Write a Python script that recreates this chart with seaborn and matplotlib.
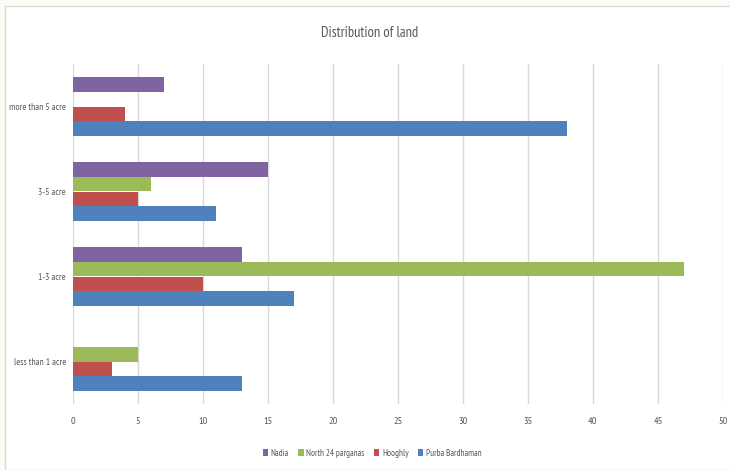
import matplotlib
matplotlib.use("Agg")
import matplotlib.pyplot as plt
import seaborn as sns
import pandas as pd
from matplotlib.patches import Rectangle
from matplotlib import font_manager

categories = ["more than 5 acre", "3-5 acre", "1-3 acre", "less than 1 acre"]
series = ["Nadia", "North 24 parganas", "Hooghly", "Purba Bardhaman"]
nadia = [7, 15, 13, 0]
north24 = [0, 6, 47, 5]
hooghly = [4, 5, 10, 3]
purba = [38, 11, 17, 13]
colors = ["#8064A2", "#9BBB59", "#C0504D", "#4F81BD"]
xticks = [0, 5, 10, 15, 20, 25, 30, 35, 40, 45, 50]

rows = []
for name, vals in zip(series, [nadia, north24, hooghly, purba]):
    for c, v in zip(categories, vals):
        rows.append({"category": c, "series": name, "value": v})
df = pd.DataFrame(rows)

sns.set_theme(style="white")
names = {f.name for f in font_manager.fontManager.ttflist}
candidates = ["Liberation Sans Narrow", "PT Sans Narrow", "Archivo Narrow", "Roboto Condensed",
              "Open Sans Condensed", "Fira Sans Condensed", "IBM Plex Sans Condensed",
              "Encode Sans Condensed", "Asap Condensed", "Ubuntu Condensed", "Pragati Narrow"]
fam = next((c for c in candidates if c in names), None)
if fam is None:
    fam = "Liberation Sans"
    scale = 0.75
else:
    scale = 0.91
plt.rcParams["font.family"] = [fam, "DejaVu Sans"]

fig = plt.figure(figsize=(7.3, 4.7), dpi=100)
fig.patch.set_facecolor("#fbfcf3")
fig.patches.append(Rectangle((5 / 730, 0.0), 1.0, 1 - 6 / 470, transform=fig.transFigure,
                             facecolor="white", edgecolor="#d9d9d9", linewidth=1.0, zorder=-5))

ax = fig.add_axes([73 / 730, 1 - 404 / 470, 650 / 730, 340 / 470])
ax.set_facecolor("none")
sns.barplot(data=df, y="category", x="value", hue="series", order=categories,
            hue_order=series, palette=colors, orient="h", width=0.69, ax=ax,
            saturation=1, legend=True, errorbar=None, linewidth=0)

ax.set_xlim(0, 50)
ax.set_xticks(xticks)
ax.set_xticklabels([str(t) for t in xticks])
ax.grid(axis="x", color="#d9d9d9", linewidth=1.0)
ax.set_axisbelow(True)
for s in ax.spines.values():
    s.set_visible(False)
ax.tick_params(axis="both", length=0, colors="#595959")
ax.tick_params(axis="x", pad=9, labelsize=8.2 * scale)
ax.tick_params(axis="y", pad=5, labelsize=7.6 * scale)
ax.set_xlabel("")
ax.set_ylabel("")

fig.text(370 / 730, 1 - 33 / 470, "Distribution of land", ha="center", va="center",
         fontsize=11.5 * scale, color="#595959")

leg = ax.legend(loc="center", bbox_to_anchor=(372 / 730, 1 - 453 / 470),
                bbox_transform=fig.transFigure, ncol=4, frameon=False, fontsize=7.2 * scale,
                handlelength=0.6, handleheight=0.7, handletextpad=0.3, columnspacing=1.0)
for t in leg.get_texts():
    t.set_color("#595959")

fig.savefig("out.png", dpi=100)
